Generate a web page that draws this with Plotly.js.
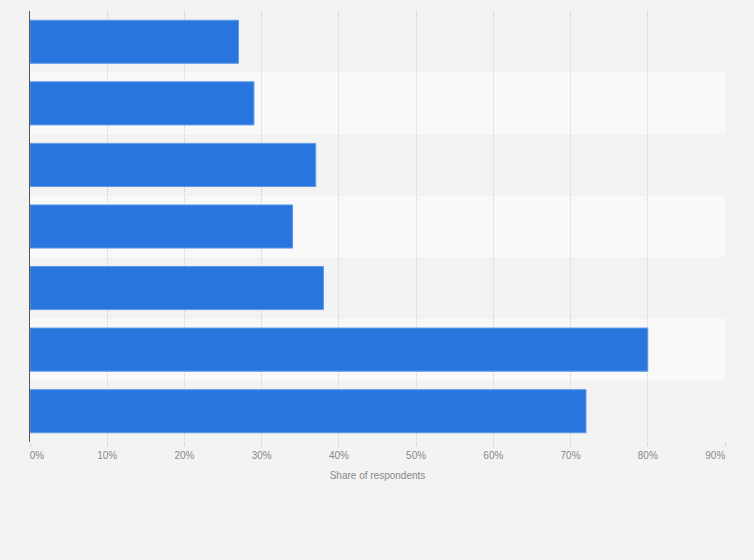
<!DOCTYPE html>
<html>
<head>
<meta charset="utf-8">
<script src="https://cdn.plot.ly/plotly-3.0.1.min.js"></script>
<style>html,body{margin:0;padding:0;background:#f3f3f3;}#chart{width:754px;height:560px;}</style>
</head>
<body>
<div id="chart"></div>
<script>
// Data (category labels are not shown in it)
const categories = ['Item 1', 'Item 2', 'Item 3', 'Item 4', 'Item 5', 'Item 6', 'Item 7'];
const shareValues = [27, 29, 37, 34, 38, 80, 72];
const tickValues = [0, 10, 20, 30, 40, 50, 60, 70, 80, 90];
const tickLabels = ['0%', '10%', '20%', '30%', '40%', '50%', '60%', '70%', '80%', '90%'];
const axisTitle = 'Share of respondents';

const nb = '\u00a0';
const tickText = tickLabels.map((t, i) => {
  if (i === 0) return nb.repeat(5) + t;
  if (i === tickLabels.length - 1) return t + nb.repeat(7);
  return t;
});

const bandShapes = categories.map((c, i) => ({
  type: 'rect', xref: 'paper', yref: 'y', layer: 'below',
  x0: 0, x1: 1, y0: i - 0.5, y1: i + 0.5,
  fillcolor: i % 2 === 1 ? '#f9f9f9' : '#f3f3f3',
  line: {width: 0}
}));

const trace = {
  type: 'bar', orientation: 'h',
  x: shareValues, y: categories.map((c, i) => i),
  marker: {color: '#2876dd', line: {color: '#5e9ae9', width: 1}},
  hoverinfo: 'x'
};

const layout = {
  width: 754, height: 560,
  margin: {l: 30, r: 29, t: 11, b: 118},
  paper_bgcolor: '#f3f3f3', plot_bgcolor: '#f3f3f3',
  font: {family: '"Liberation Sans", Arial, sans-serif', size: 10, color: '#888'},
  bargap: 0.3,
  showlegend: false,
  shapes: bandShapes,
  xaxis: {
    range: [0, 90], tickvals: tickValues, ticktext: tickText,
    showgrid: true, gridcolor: '#cfcfcf', griddash: '1px,1px', gridwidth: 1,
    zeroline: false, showline: false,
    ticks: 'outside', ticklen: 4, tickcolor: '#d6d6d6',
    tickfont: {size: 10, color: '#888'},
    title: {text: axisTitle, font: {size: 10, color: '#888'}, standoff: 11},
    fixedrange: true
  },
  yaxis: {
    autorange: 'reversed', range: [6.5, -0.5],
    tickvals: categories.map((c, i) => i), ticktext: categories,
    showticklabels: false, showgrid: false, zeroline: false,
    showline: true, linecolor: '#555', linewidth: 1, ticks: '',
    fixedrange: true
  }
};

Plotly.newPlot('chart', [trace], layout, {displayModeBar: false, staticPlot: true});
</script>
</body>
</html>
